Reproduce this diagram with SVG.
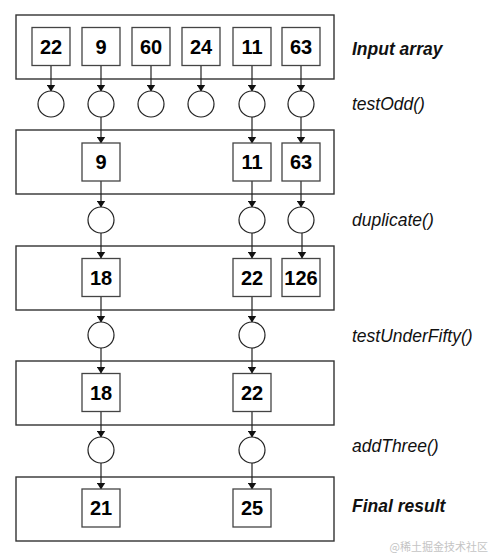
<svg xmlns="http://www.w3.org/2000/svg" width="492" height="556" viewBox="0 0 492 556">
<style>
.stage{fill:#fff;stroke:#333;stroke-width:1.4}
.cell{fill:#fff;stroke:#444;stroke-width:1.3}
.fn{fill:#fff;stroke:#222;stroke-width:1.2}
.num{font-family:"Liberation Sans",Arial,sans-serif;font-weight:bold;font-size:20px;text-anchor:middle;fill:#000}
.lbl{font-family:"Liberation Sans",Arial,sans-serif;font-style:italic;font-size:17.5px;fill:#111}
.b{font-weight:bold}
.con{stroke:#222;stroke-width:1.2;fill:none;marker-end:url(#ah)}
</style>
<defs>
<marker id="ah" markerWidth="7" markerHeight="9" refX="6.5" refY="4.5" orient="auto" markerUnits="userSpaceOnUse" viewBox="0 0 7 9">
<path d="M0,0 L7,4.5 L0,9 Z" fill="#111" transform="rotate(0)"/>
</marker>
</defs>
<rect width="492" height="556" fill="#fff"/>
<g id="stages">
<rect id="stage1" class="stage" x="16" y="15" width="318" height="64"/>
<rect id="stage2" class="stage" x="16" y="130" width="318" height="64"/>
<rect id="stage3" class="stage" x="16" y="246" width="318" height="64"/>
<rect id="stage4" class="stage" x="16" y="361" width="318" height="64"/>
<rect id="stage5" class="stage" x="16" y="477" width="318" height="64"/>
</g>
<g id="connectors">
<line class="con" x1="51" y1="66" x2="51" y2="91"/>
<line class="con" x1="101" y1="66" x2="101" y2="91"/>
<line class="con" x1="151" y1="66" x2="151" y2="91"/>
<line class="con" x1="201" y1="66" x2="201" y2="91"/>
<line class="con" x1="252" y1="66" x2="252" y2="91"/>
<line class="con" x1="301" y1="66" x2="301" y2="91"/>
<line class="con" x1="101" y1="117" x2="101" y2="143"/>
<line class="con" x1="252" y1="117" x2="252" y2="143"/>
<line class="con" x1="301" y1="117" x2="301" y2="143"/>
<line class="con" x1="101" y1="181" x2="101" y2="207"/>
<line class="con" x1="252" y1="181" x2="252" y2="207"/>
<line class="con" x1="301" y1="181" x2="301" y2="207"/>
<line class="con" x1="101" y1="233" x2="101" y2="258"/>
<line class="con" x1="252" y1="233" x2="252" y2="258"/>
<line class="con" x1="302" y1="233" x2="302" y2="258"/>
<line class="con" x1="101" y1="296" x2="101" y2="322"/>
<line class="con" x1="252" y1="296" x2="252" y2="322"/>
<line class="con" x1="101" y1="348" x2="101" y2="373"/>
<line class="con" x1="252" y1="348" x2="252" y2="373"/>
<line class="con" x1="101" y1="412" x2="101" y2="437"/>
<line class="con" x1="252" y1="412" x2="252" y2="437"/>
<line class="con" x1="101" y1="463" x2="101" y2="489"/>
<line class="con" x1="252" y1="463" x2="252" y2="489"/>
</g>
<g id="row1">
<g id="n22a"><rect class="cell" x="32" y="27.5" width="38" height="38"/><text class="num" x="51" y="53.5">22</text></g>
<g id="n9a"><rect class="cell" x="82" y="27.5" width="38" height="38"/><text class="num" x="101" y="53.5">9</text></g>
<g id="n60"><rect class="cell" x="132" y="27.5" width="38" height="38"/><text class="num" x="151" y="53.5">60</text></g>
<g id="n24"><rect class="cell" x="182" y="27.5" width="38" height="38"/><text class="num" x="201" y="53.5">24</text></g>
<g id="n11a"><rect class="cell" x="233" y="27.5" width="38" height="38"/><text class="num" x="252" y="53.5">11</text></g>
<g id="n63a"><rect class="cell" x="282" y="27.5" width="38" height="38"/><text class="num" x="301" y="53.5">63</text></g>
</g>
<g id="fn1">
<circle class="fn" cx="51" cy="104" r="13"/>
<circle class="fn" cx="101" cy="104" r="13"/>
<circle class="fn" cx="151" cy="104" r="13"/>
<circle class="fn" cx="201" cy="104" r="13"/>
<circle class="fn" cx="252" cy="104" r="13"/>
<circle class="fn" cx="301" cy="104" r="13"/>
</g>
<g id="row2">
<g id="n9b"><rect class="cell" x="82" y="143" width="38" height="38"/><text class="num" x="101" y="169">9</text></g>
<g id="n11b"><rect class="cell" x="233" y="143" width="38" height="38"/><text class="num" x="252" y="169">11</text></g>
<g id="n63b"><rect class="cell" x="282" y="143" width="38" height="38"/><text class="num" x="301" y="169">63</text></g>
</g>
<g id="fn2">
<circle class="fn" cx="101" cy="220" r="13"/>
<circle class="fn" cx="252" cy="220" r="13"/>
<circle class="fn" cx="301" cy="220" r="13"/>
</g>
<g id="row3">
<g id="n18a"><rect class="cell" x="82" y="258.5" width="38" height="38"/><text class="num" x="101" y="284.5">18</text></g>
<g id="n22b"><rect class="cell" x="233" y="258.5" width="38" height="38"/><text class="num" x="252" y="284.5">22</text></g>
<g id="n126"><rect class="cell" x="282" y="258.5" width="38" height="38"/><text class="num" x="301" y="284.5">126</text></g>
</g>
<g id="fn3">
<circle class="fn" cx="101" cy="335" r="13"/>
<circle class="fn" cx="252" cy="335" r="13"/>
</g>
<g id="row4">
<g id="n18b"><rect class="cell" x="82" y="373.5" width="38" height="38"/><text class="num" x="101" y="399.5">18</text></g>
<g id="n22c"><rect class="cell" x="233" y="373.5" width="38" height="38"/><text class="num" x="252" y="399.5">22</text></g>
</g>
<g id="fn4">
<circle class="fn" cx="101" cy="450" r="13"/>
<circle class="fn" cx="252" cy="450" r="13"/>
</g>
<g id="row5">
<g id="n21"><rect class="cell" x="82" y="489" width="38" height="38"/><text class="num" x="101" y="515">21</text></g>
<g id="n25"><rect class="cell" x="233" y="489" width="38" height="38"/><text class="num" x="252" y="515">25</text></g>
</g>
<g id="labels">
<text class="lbl b" x="352" y="55">Input array</text>
<text class="lbl" x="352" y="110">testOdd()</text>
<text class="lbl" x="352" y="226">duplicate()</text>
<text class="lbl" x="352" y="341.5">testUnderFifty()</text>
<text class="lbl" x="352" y="452">addThree()</text>
<text class="lbl b" x="352" y="511.5">Final result</text>
</g>
<text x="488" y="551" text-anchor="end" font-family="'Noto Sans CJK SC','Liberation Sans',sans-serif" font-size="11" fill="#c4c4c4">@稀土掘金技术社区</text>
</svg>
